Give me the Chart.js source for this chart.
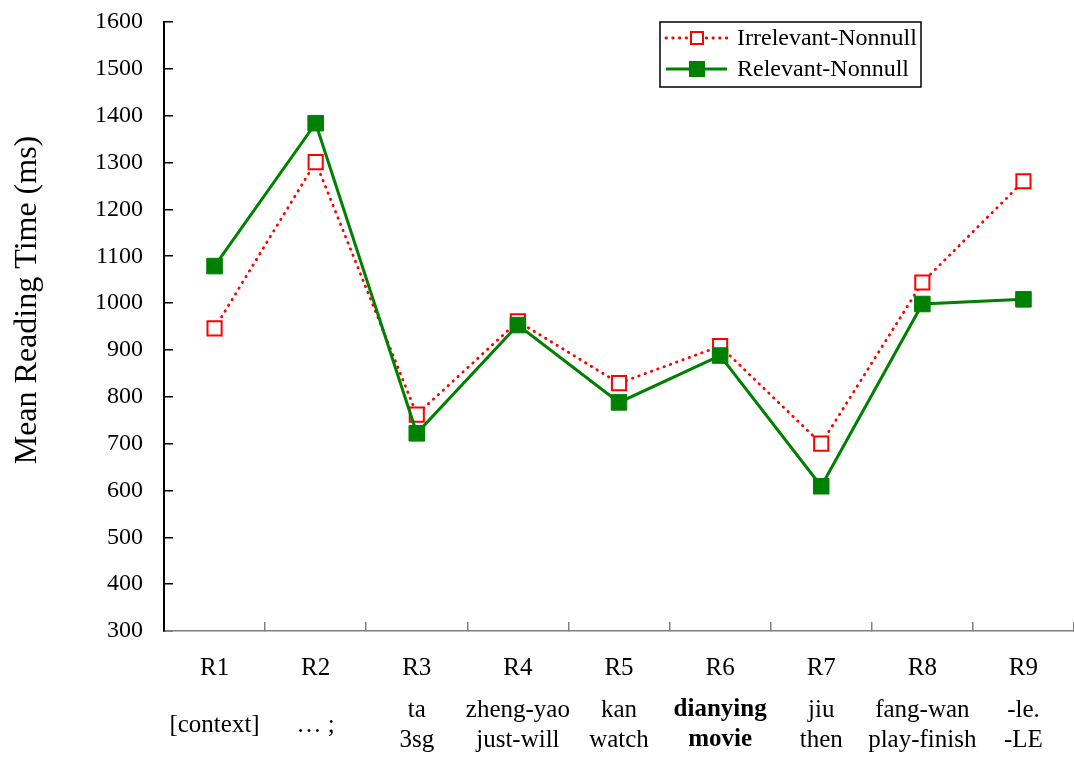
<!DOCTYPE html>
<html>
<head>
<meta charset="utf-8">
<script src="https://cdn.jsdelivr.net/npm/chart.js@4.4.1/dist/chart.umd.min.js"></script>
<style>
  html, body { margin: 0; padding: 0; background: #fff; }
  #wrap { width: 1074px; height: 757px; }
</style>
</head>
<body>
<div id="wrap"><canvas id="chart"></canvas></div>
<script>
// regions of the sentence and their glosses
const regions = ["R1", "R2", "R3", "R4", "R5", "R6", "R7", "R8", "R9"];
const glosses = [
  ["[context]"],
  ["\u2026 ;"],
  ["ta", "3sg"],
  ["zheng-yao", "just-will"],
  ["kan", "watch"],
  ["dianying", "movie"],
  ["jiu", "then"],
  ["fang-wan", "play-finish"],
  ["-le.", "-LE"],
];
const boldGlossIndex = 5;

// mean reading times (ms)
const irrelevantNonnull = [946, 1301, 762, 961, 829, 908, 700, 1044, 1260];
const relevantNonnull = [1079, 1384, 722, 953, 788, 888, 609, 998, 1008];

const yMin = 300;
const yMax = 1600;
const yStep = 100;

const serif = "'Liberation Serif', 'Times New Roman', serif";
const red = "#ff0000";
const green = "#008000";

// y title sits a bit above the middle of the plot, so draw it by hand
const yTitle = {
  id: "yTitle",
  afterDraw(chart) {
    const ctx = chart.ctx;
    ctx.save();
    ctx.translate(28, 300);
    ctx.rotate(-Math.PI / 2);
    ctx.font = `32px ${serif}`;
    ctx.fillStyle = "#000";
    ctx.textAlign = "center";
    ctx.textBaseline = "middle";
    ctx.fillText("Mean Reading Time (ms)", 0, 0);
    ctx.restore();
  },
};

// second row of x labels: the words and their glosses, centred on 725
const glossRow = {
  id: "glossRow",
  afterDraw(chart) {
    const ctx = chart.ctx;
    const xs = chart.scales.x;
    const lineH = 30;
    ctx.save();
    ctx.fillStyle = "#000";
    ctx.textAlign = "center";
    ctx.textBaseline = "middle";
    glosses.forEach((lines, i) => {
      const weight = i === boldGlossIndex ? "bold " : "";
      ctx.font = `${weight}25px ${serif}`;
      const px = xs.getPixelForValue(i);
      const y0 = 725 - ((lines.length - 1) * lineH) / 2;
      lines.forEach((t, j) => ctx.fillText(t, px, y0 + j * lineH));
    });
    ctx.restore();
  },
};

// boxed legend inside the plot, line + marker samples
const legendBox = {
  id: "legendBox",
  afterDatasetsDraw(chart) {
    const ctx = chart.ctx;
    const x = 660, y = 22, w = 261, h = 65;
    ctx.save();
    ctx.fillStyle = "#fff";
    ctx.fillRect(x, y, w, h);
    ctx.strokeStyle = "#000";
    ctx.lineWidth = 1.5;
    ctx.strokeRect(x, y, w, h);

    chart.data.datasets.forEach((ds, i) => {
      const ry = y + 16 + i * 31;
      ctx.beginPath();
      ctx.setLineDash(ds.borderDash || []);
      ctx.lineCap = ds.borderCapStyle || "butt";
      ctx.strokeStyle = ds.borderColor;
      ctx.lineWidth = ds.borderWidth;
      ctx.moveTo(x + 6, ry);
      ctx.lineTo(x + 67, ry);
      ctx.stroke();
      ctx.setLineDash([]);
      ctx.lineCap = "butt";

      const s = i === 0 ? 12 : 15;
      ctx.fillStyle = ds.pointBackgroundColor;
      ctx.fillRect(x + 37 - s / 2, ry - s / 2, s, s);
      ctx.strokeStyle = ds.pointBorderColor;
      ctx.lineWidth = ds.pointBorderWidth;
      ctx.strokeRect(x + 37 - s / 2, ry - s / 2, s, s);

      ctx.fillStyle = "#000";
      ctx.font = `24px ${serif}`;
      ctx.textAlign = "left";
      ctx.textBaseline = "middle";
      ctx.fillText(ds.label, x + 77, ry + 1);
    });
    ctx.restore();
  },
};

new Chart(document.getElementById("chart"), {
  type: "line",
  data: {
    labels: regions,
    datasets: [
      {
        label: "Irrelevant-Nonnull",
        data: irrelevantNonnull,
        borderColor: red,
        borderWidth: 2.8,
        borderDash: [0.5, 6.2],
        borderCapStyle: "round",
        pointStyle: "rect",
        pointRadius: 10,
        pointBorderWidth: 2,
        pointBorderColor: red,
        pointBackgroundColor: "#fff",
        tension: 0,
        order: 1,
      },
      {
        label: "Relevant-Nonnull",
        data: relevantNonnull,
        borderColor: green,
        borderWidth: 3,
        pointStyle: "rect",
        pointRadius: 11,
        pointBorderWidth: 1,
        pointBorderColor: green,
        pointBackgroundColor: green,
        tension: 0,
        order: 0,
      },
    ],
  },
  options: {
    responsive: true,
    maintainAspectRatio: false,
    animation: false,
    layout: {
      autoPadding: false,
      padding: { top: 22, right: -2, left: 0, bottom: 43 },
    },
    plugins: {
      legend: { display: false },
      tooltip: { enabled: false },
    },
    scales: {
      x: {
        type: "category",
        offset: true,
        grid: {
          offset: true,
          drawOnChartArea: false,
          color: "#808080",
          lineWidth: 1.5,
          tickLength: -9,
        },
        border: { color: "#808080", width: 1.5 },
        ticks: {
          color: "#000",
          padding: 31,
          maxRotation: 0,
          font: { family: serif, size: 25 },
        },
      },
      y: {
        min: yMin,
        max: yMax,
        afterFit: (scale) => {
          scale.width = 164;
          scale.paddingTop = 0;
          scale.paddingBottom = 0;
        },
        grid: {
          drawOnChartArea: false,
          color: "#000",
          lineWidth: 1.5,
          tickLength: -9,
        },
        border: { color: "#000", width: 2 },
        ticks: {
          stepSize: yStep,
          color: "#000",
          padding: 30,
          font: { family: serif, size: 24 },
          callback: (v) => String(v),
        },
      },
    },
  },
  plugins: [yTitle, glossRow, legendBox],
});
</script>
</body>
</html>
